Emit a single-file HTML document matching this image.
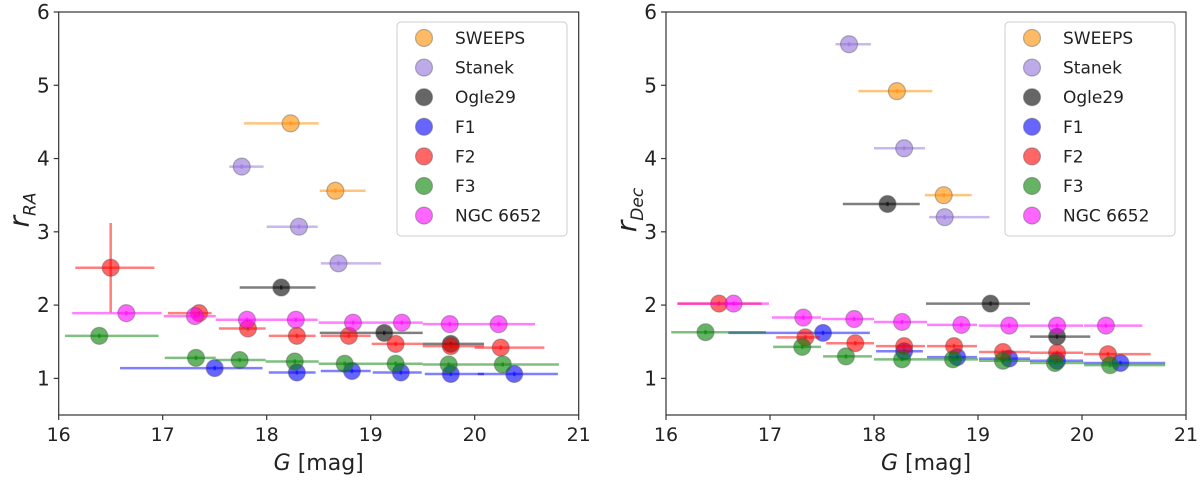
<!DOCTYPE html>
<html><head><meta charset="utf-8">
<style>
html,body{margin:0;padding:0;background:#fff;}
svg{display:block;font-family:"DejaVu Sans","Liberation Sans",sans-serif;}
</style></head>
<body>
<svg id="chart" width="1200" height="484" viewBox="0 0 1200 484" xmlns="http://www.w3.org/2000/svg"></svg>
<script>
// ---------- data: left panel (r_RA) ----------
const L_SWEEPS_G=[18.23,18.66], L_SWEEPS_R=[4.48,3.56], L_SWEEPS_LO=[17.78,18.51], L_SWEEPS_HI=[18.50,18.95];
const L_STANEK_G=[17.76,18.31,18.69], L_STANEK_R=[3.89,3.07,2.57], L_STANEK_LO=[17.64,18.00,18.52], L_STANEK_HI=[17.97,18.49,19.10];
const L_OGLE_G=[18.14,19.13,19.77], L_OGLE_R=[2.24,1.62,1.47], L_OGLE_LO=[17.74,18.51,19.50], L_OGLE_HI=[18.47,19.50,20.09];
const L_F1_G=[17.50,18.29,18.82,19.29,19.77,20.38], L_F1_R=[1.14,1.08,1.10,1.08,1.06,1.06], L_F1_LO=[16.59,18.02,18.52,19.02,19.52,20.03], L_F1_HI=[17.96,18.47,19.00,19.49,20.09,20.80];
const L_F2_G=[16.50,17.35,17.82,18.29,18.79,19.24,19.77,20.25], L_F2_R=[2.51,1.89,1.68,1.58,1.58,1.47,1.44,1.42], L_F2_LO=[16.16,17.05,17.54,18.02,18.52,19.01,19.50,20.00], L_F2_HI=[16.92,17.47,17.99,18.47,19.00,19.50,20.09,20.67];
const L_F2_YERR=[0.61,0.03,0.03,0.03,0.03,0.03,0.03,0.03];
const L_F3_G=[16.39,17.32,17.74,18.27,18.75,19.24,19.75,20.27], L_F3_R=[1.58,1.28,1.25,1.23,1.20,1.20,1.19,1.19], L_F3_LO=[16.06,17.02,17.51,17.99,18.50,19.00,19.50,20.00], L_F3_HI=[16.96,17.51,17.99,18.50,19.00,19.50,20.00,20.81];
const L_NGC_G=[16.65,17.31,17.81,18.28,18.83,19.30,19.76,20.23], L_NGC_R=[1.89,1.85,1.80,1.80,1.76,1.76,1.74,1.74], L_NGC_LO=[16.13,17.01,17.51,17.99,18.50,19.00,19.50,20.00], L_NGC_HI=[16.99,17.51,17.99,18.49,19.00,19.50,20.00,20.58];

// ---------- data: right panel (r_Dec) ----------
const R_SWEEPS_G=[18.22,18.67], R_SWEEPS_R=[4.92,3.50], R_SWEEPS_LO=[17.85,18.49], R_SWEEPS_HI=[18.56,18.94];
const R_STANEK_G=[17.76,18.29,18.68], R_STANEK_R=[5.56,4.14,3.20], R_STANEK_LO=[17.63,18.00,18.53], R_STANEK_HI=[17.97,18.49,19.11];
const R_OGLE_G=[18.13,19.12,19.76], R_OGLE_R=[3.38,2.02,1.57], R_OGLE_LO=[17.70,18.50,19.50], R_OGLE_HI=[18.44,19.50,20.08];
const R_F1_G=[17.51,18.29,18.80,19.30,19.76,20.37], R_F1_R=[1.62,1.37,1.29,1.27,1.24,1.21], R_F1_LO=[16.60,18.02,18.51,19.01,19.50,20.02], R_F1_HI=[17.96,18.47,18.99,19.50,20.01,20.80];
const R_F2_G=[16.51,17.34,17.82,18.29,18.77,19.24,19.76,20.25], R_F2_R=[2.02,1.56,1.48,1.44,1.44,1.36,1.35,1.33], R_F2_LO=[16.11,17.06,17.54,18.02,18.51,19.01,19.50,20.02], R_F2_HI=[16.92,17.48,18.00,18.49,18.99,19.50,20.01,20.66];
const R_F2_YERR=[0.03,0.03,0.03,0.03,0.03,0.03,0.03,0.03];
const R_F3_G=[16.38,17.31,17.73,18.27,18.76,19.24,19.74,20.27], R_F3_R=[1.63,1.43,1.30,1.26,1.26,1.24,1.21,1.18], R_F3_LO=[16.05,17.03,17.51,18.00,18.51,19.01,19.50,20.02], R_F3_HI=[16.96,17.49,17.98,18.51,19.00,19.50,20.02,20.80];
const R_NGC_G=[16.65,17.32,17.81,18.27,18.84,19.30,19.76,20.23], R_NGC_R=[2.02,1.83,1.81,1.77,1.73,1.72,1.72,1.72], R_NGC_LO=[16.11,17.02,17.50,18.00,18.51,19.01,19.50,20.02], R_NGC_HI=[16.99,17.49,18.00,18.51,18.99,19.50,20.01,20.58];

const X_TICKS=[16,17,18,19,20,21];
const Y_TICKS=[1,2,3,4,5,6];
const LEGEND_NAMES=["SWEEPS","Stanek","Ogle29","F1","F2","F3","NGC 6652"];
const SERIES_COLORS=["#ff8c00","#9370db","#000000","#0000ff","#ff0000","#008000","#ff00ff"];

const NS="http://www.w3.org/2000/svg";
const svg=document.getElementById('chart');
function mk(tag,attrs,parent){const e=document.createElementNS(NS,tag);for(const k in attrs)e.setAttribute(k,attrs[k]);(parent||svg).appendChild(e);return e;}

const YTOP=12, YBOT=415;
function yScale(v){return YTOP+(6-v)*(YBOT-YTOP)/5.5;}

function drawPanel(x0,x1,series,key,labelSub,legendX){
  const xScale=g=>x0+(g-16)*(x1-x0)/5;
  const grp=mk('g',{});
  
  
  series.forEach((s,si)=>{
    const col=SERIES_COLORS[si];
    const sg=mk('g',{},grp);
    
    
    s.g.forEach((g,i)=>{
      const cx=xScale(g), cy=yScale(s.r[i]);
      const ye=s.ye?s.ye[i]:0.03;
      const eb=mk('line',{x1:xScale(s.lo[i]),x2:xScale(s.hi[i]),y1:cy,y2:cy,stroke:col,'stroke-opacity':0.5,'stroke-width':2.5},sg);
      
      
      const ev=mk('line',{x1:cx,x2:cx,y1:yScale(s.r[i]+ye),y2:yScale(s.r[i]-ye),stroke:col,'stroke-opacity':0.5,'stroke-width':2.5},sg);
      
      
      const c=mk('circle',{cx:cx,cy:cy,r:8.5,fill:col,'fill-opacity':0.6,stroke:'#555','stroke-opacity':0.4,'stroke-width':1.2},sg);
      
      
    });
  });
  const fr=mk('rect',{x:x0,y:YTOP,width:x1-x0,height:YBOT-YTOP,fill:'none',stroke:'#333','stroke-width':1.2},grp);
  
  
  X_TICKS.forEach(t=>{
    const x=xScale(t);
    mk('line',{x1:x,x2:x,y1:YBOT,y2:YBOT+5,stroke:'#333','stroke-width':1.2},grp);
    const tl=mk('text',{x:x,y:YBOT+26,'text-anchor':'middle','font-size':19,fill:'#222'},grp);
    tl.textContent=t;
    
    
  });
  Y_TICKS.forEach(t=>{
    const y=yScale(t);
    mk('line',{x1:x0-5,x2:x0,y1:y,y2:y,stroke:'#333','stroke-width':1.2},grp);
    const tl=mk('text',{x:x0-9,y:y+7,'text-anchor':'end','font-size':20,fill:'#222'},grp);
    tl.textContent=t;
    
    
  });
  const xl=mk('text',{x:(x0+x1)/2,y:470,'text-anchor':'middle','font-size':22,fill:'#222'},grp);
  xl.innerHTML='<tspan font-style="italic">G</tspan> [mag]';
  
  
  const yl=mk('text',{x:0,y:0,'text-anchor':'middle','font-size':28,fill:'#222',transform:'translate('+(x0-30)+',210) rotate(-90)'},grp);
  yl.innerHTML='<tspan font-style="italic">r</tspan><tspan font-style="italic" font-size="17" dy="7">'+labelSub+'</tspan>';
  
  
  const lg=mk('g',{},grp);
  
  
  mk('rect',{x:legendX,y:22,width:170,height:214,rx:4,fill:'#fff','fill-opacity':0.85,stroke:'#ccc','stroke-width':1},lg);
  LEGEND_NAMES.forEach((n,i)=>{
    const y=38+i*29.6;
    const le=mk('g',{},lg);
    
    
    mk('circle',{cx:legendX+27,cy:y,r:8.5,fill:SERIES_COLORS[i],'fill-opacity':0.6,stroke:'#555','stroke-opacity':0.4,'stroke-width':1.2},le);
    const t=mk('text',{x:legendX+58,y:y+6,'font-size':17,fill:'#222'},le);
    t.textContent=n;
  });
}

drawPanel(58.7,578.7,[
 {g:L_SWEEPS_G,r:L_SWEEPS_R,lo:L_SWEEPS_LO,hi:L_SWEEPS_HI},
 {g:L_STANEK_G,r:L_STANEK_R,lo:L_STANEK_LO,hi:L_STANEK_HI},
 {g:L_OGLE_G,r:L_OGLE_R,lo:L_OGLE_LO,hi:L_OGLE_HI},
 {g:L_F1_G,r:L_F1_R,lo:L_F1_LO,hi:L_F1_HI},
 {g:L_F2_G,r:L_F2_R,lo:L_F2_LO,hi:L_F2_HI,ye:L_F2_YERR},
 {g:L_F3_G,r:L_F3_R,lo:L_F3_LO,hi:L_F3_HI},
 {g:L_NGC_G,r:L_NGC_R,lo:L_NGC_LO,hi:L_NGC_HI}
],'ra','RA',397);

drawPanel(666,1186,[
 {g:R_SWEEPS_G,r:R_SWEEPS_R,lo:R_SWEEPS_LO,hi:R_SWEEPS_HI},
 {g:R_STANEK_G,r:R_STANEK_R,lo:R_STANEK_LO,hi:R_STANEK_HI},
 {g:R_OGLE_G,r:R_OGLE_R,lo:R_OGLE_LO,hi:R_OGLE_HI},
 {g:R_F1_G,r:R_F1_R,lo:R_F1_LO,hi:R_F1_HI},
 {g:R_F2_G,r:R_F2_R,lo:R_F2_LO,hi:R_F2_HI,ye:R_F2_YERR},
 {g:R_F3_G,r:R_F3_R,lo:R_F3_LO,hi:R_F3_HI},
 {g:R_NGC_G,r:R_NGC_R,lo:R_NGC_LO,hi:R_NGC_HI}
],'dec','Dec',1005);
</script>
</body></html>
